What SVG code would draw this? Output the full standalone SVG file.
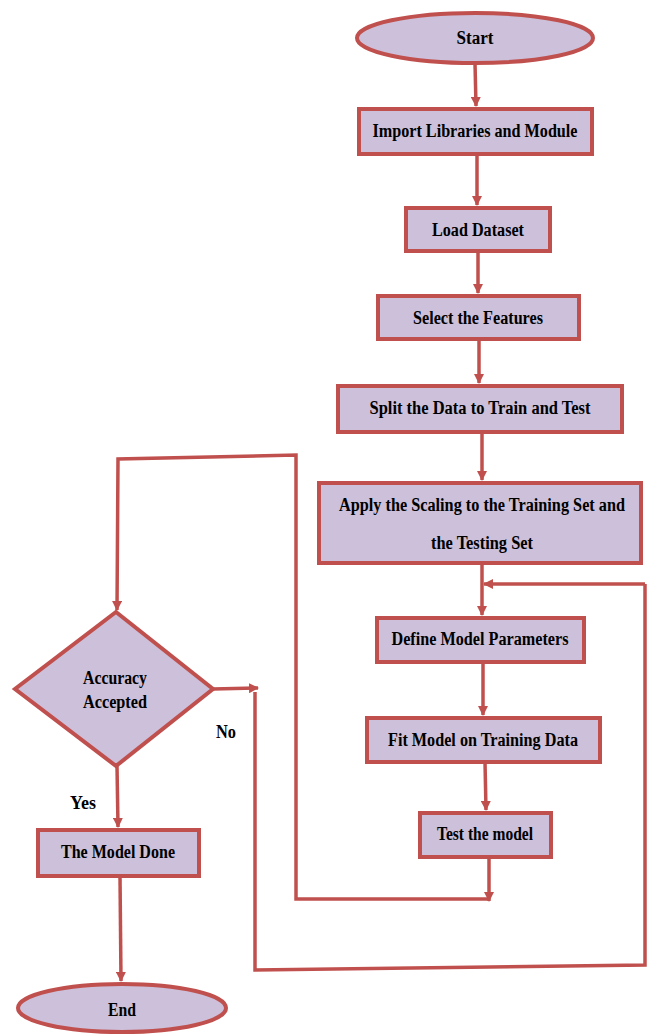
<svg xmlns="http://www.w3.org/2000/svg" width="654" height="1034" viewBox="0 0 654 1034">
<defs>
<marker id="ah" markerWidth="10" markerHeight="10" refX="9" refY="5" orient="auto" markerUnits="userSpaceOnUse">
<path d="M0,0 L10,5 L0,10 Z" fill="#C0504D"/>
</marker>
<style>
.n{fill:#CCC0DA;stroke:#C0504D;stroke-width:4}
.t{font-family:'Liberation Serif','Times New Roman',serif;font-weight:700;font-size:18px;fill:#000;text-anchor:middle}
.c{fill:none;stroke:#C0504D;stroke-width:3.5}
.ca{fill:none;stroke:#C0504D;stroke-width:3.5;marker-end:url(#ah)}
</style>
</defs>
<rect width="654" height="1034" fill="#fff"/>
<g id="connectors">
<line class="ca" x1="475" y1="63" x2="476" y2="106"/>
<line class="ca" x1="477" y1="155" x2="477" y2="205"/>
<line class="ca" x1="478" y1="252" x2="478" y2="293"/>
<line class="ca" x1="479" y1="340" x2="479" y2="383"/>
<line class="ca" x1="482" y1="433" x2="482" y2="480"/>
<line class="ca" x1="482" y1="564" x2="482" y2="615"/>
<line class="ca" x1="483" y1="662" x2="483" y2="715"/>
<line class="ca" x1="485" y1="762" x2="486" y2="810"/>
<line class="ca" x1="489" y1="857" x2="489" y2="901"/>
<polyline class="ca" points="489,899 296,899 296,455 118,459 117,610"/>
<line class="ca" x1="213" y1="689" x2="258" y2="688"/>
<polyline class="c" points="255,692 255,970 645,965 645,584"/>
<line class="ca" x1="645" y1="584" x2="484" y2="584"/>
<line class="ca" x1="117" y1="766" x2="118" y2="827"/>
<line class="ca" x1="120" y1="876" x2="121" y2="981"/>
</g>
<g id="start"><ellipse class="n" cx="475" cy="38" rx="118" ry="25"/><text class="t" x="475" y="44" textLength="37" lengthAdjust="spacingAndGlyphs">Start</text></g>
<g id="import"><rect class="n" x="359" y="109" width="233" height="45"/><text class="t" x="475" y="137" textLength="205" lengthAdjust="spacingAndGlyphs">Import Libraries and Module</text></g>
<g id="load"><rect class="n" x="406" y="208" width="144" height="43"/><text class="t" x="478" y="236" textLength="92" lengthAdjust="spacingAndGlyphs">Load Dataset</text></g>
<g id="select"><rect class="n" x="378" y="296" width="201" height="43"/><text class="t" x="478" y="324" textLength="130" lengthAdjust="spacingAndGlyphs">Select the Features</text></g>
<g id="split"><rect class="n" x="338" y="386" width="284" height="46"/><text class="t" x="480" y="414" textLength="221" lengthAdjust="spacingAndGlyphs">Split the Data to Train and Test</text></g>
<g id="apply"><rect class="n" x="319" y="483" width="322" height="80"/><text class="t" x="482" y="511" textLength="286" lengthAdjust="spacingAndGlyphs">Apply the Scaling to the Training Set and</text><text class="t" x="482" y="549" textLength="102" lengthAdjust="spacingAndGlyphs">the Testing Set</text></g>
<g id="define"><rect class="n" x="377" y="618" width="207" height="44"/><text class="t" x="480" y="645" textLength="177" lengthAdjust="spacingAndGlyphs">Define Model Parameters</text></g>
<g id="fit"><rect class="n" x="367" y="718" width="233" height="44"/><text class="t" x="483" y="746" textLength="190" lengthAdjust="spacingAndGlyphs">Fit Model on Training Data</text></g>
<g id="test"><rect class="n" x="420" y="813" width="131" height="44"/><text class="t" x="485" y="840" textLength="96" lengthAdjust="spacingAndGlyphs">Test the model</text></g>
<g id="decision"><polygon class="n" points="116,612 213,689 116,766 15,689"/><text class="t" x="115" y="684" textLength="64" lengthAdjust="spacingAndGlyphs">Accuracy</text><text class="t" x="115" y="708" textLength="64" lengthAdjust="spacingAndGlyphs">Accepted</text></g>
<g id="done"><rect class="n" x="38" y="830" width="161" height="46"/><text class="t" x="118" y="858" textLength="114" lengthAdjust="spacingAndGlyphs">The Model Done</text></g>
<g id="end"><ellipse class="n" cx="122" cy="1008" rx="104" ry="24"/><text class="t" x="122" y="1016" textLength="28" lengthAdjust="spacingAndGlyphs">End</text></g>
<text class="t" x="226" y="738" textLength="20" lengthAdjust="spacingAndGlyphs">No</text>
<text class="t" x="83" y="809" textLength="26" lengthAdjust="spacingAndGlyphs">Yes</text>
</svg>
